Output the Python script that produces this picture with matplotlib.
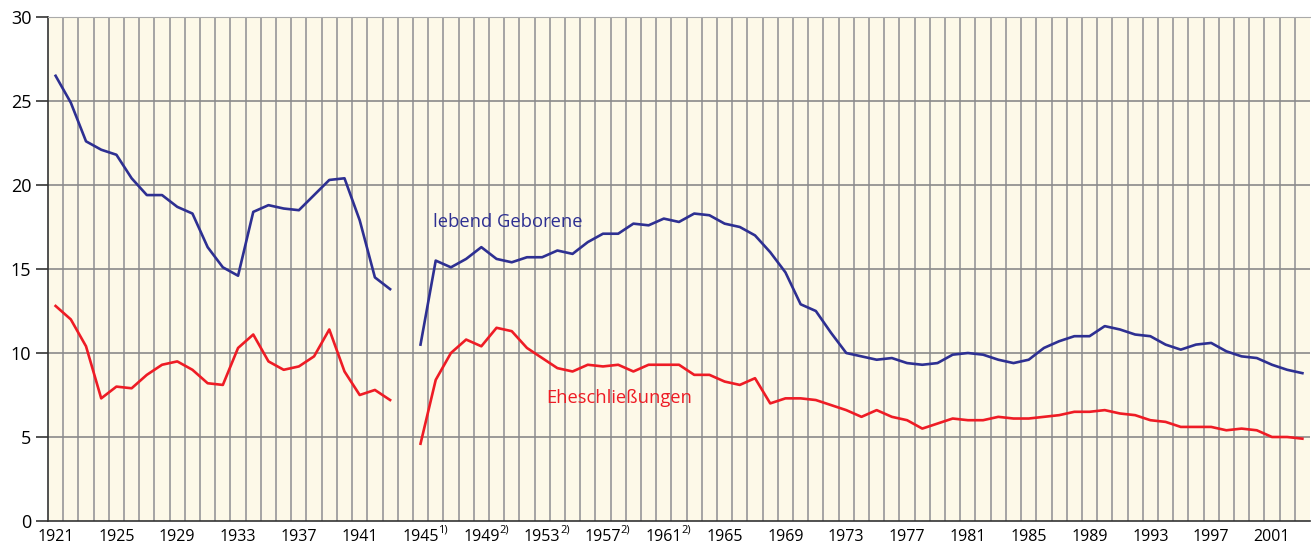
import matplotlib
matplotlib.use("Agg")
import matplotlib.pyplot as plt
import matplotlib.transforms as mtransforms
import numpy as np

plt.rcParams["font.family"] = ["Open Sans", "DejaVu Sans"]

# Jahre 1921-1943 und 1945-2003
years_a = list(range(1921, 1944))
years_b = list(range(1945, 2004))

geborene_a = [26.5, 24.9, 22.6, 22.1, 21.8, 20.4, 19.4, 19.4, 18.7, 18.3, 16.3, 15.1,
              14.6, 18.4, 18.8, 18.6, 18.5, 19.4, 20.3, 20.4, 17.9, 14.5, 13.8]
geborene_b = [10.5, 15.5, 15.1, 15.6, 16.3, 15.6, 15.4, 15.7, 15.7, 16.1, 15.9, 16.6,
              17.1, 17.1, 17.7, 17.6, 18.0, 17.8, 18.3, 18.2, 17.7, 17.5, 17.0, 16.0,
              14.8, 12.9, 12.5, 11.2, 10.0, 9.8, 9.6, 9.7, 9.4, 9.3, 9.4, 9.9,
              10.0, 9.9, 9.6, 9.4, 9.6, 10.3, 10.7, 11.0, 11.0, 11.6, 11.4, 11.1,
              11.0, 10.5, 10.2, 10.5, 10.6, 10.1, 9.8, 9.7, 9.3, 9.0, 8.8]

ehe_a = [12.8, 12.0, 10.4, 7.3, 8.0, 7.9, 8.7, 9.3, 9.5, 9.0, 8.2, 8.1,
         10.3, 11.1, 9.5, 9.0, 9.2, 9.8, 11.4, 8.9, 7.5, 7.8, 7.2]
ehe_b = [4.6, 8.4, 10.0, 10.8, 10.4, 11.5, 11.3, 10.3, 9.7, 9.1, 8.9, 9.3,
         9.2, 9.3, 8.9, 9.3, 9.3, 9.3, 8.7, 8.7, 8.3, 8.1, 8.5, 7.0,
         7.3, 7.3, 7.2, 6.9, 6.6, 6.2, 6.6, 6.2, 6.0, 5.5, 5.8, 6.1,
         6.0, 6.0, 6.2, 6.1, 6.1, 6.2, 6.3, 6.5, 6.5, 6.6, 6.4, 6.3,
         6.0, 5.9, 5.6, 5.6, 5.6, 5.4, 5.5, 5.4, 5.0, 5.0, 4.9]

tick_years = list(range(1921, 2004, 4))
tick_notes = {1945: "1)", 1949: "2)", 1953: "2)", 1957: "2)", 1961: "2)"}

blue = "#2e3092"
red = "#ee1c25"

fig = plt.figure(figsize=(13.11, 5.45), dpi=100)
ax = fig.add_axes([48 / 1311, 24 / 545, 1262 / 1311, 504 / 545])
ax.set_facecolor("#fdf9e8")

ax.set_xlim(1920.5, 2003.5)
ax.set_ylim(0, 30)

for x in np.arange(1921.5, 2003.5, 1):
    ax.axvline(x, color="#9e9e9e", lw=1.3, zorder=1)
for y in [5, 10, 15, 20, 25]:
    ax.axhline(y, color="#8a8a8a", lw=1.2, zorder=1)

ax.plot(years_a, geborene_a, color=blue, lw=1.9, zorder=3)
ax.plot(years_b, geborene_b, color=blue, lw=1.9, zorder=3)
ax.plot(years_a, ehe_a, color=red, lw=1.9, zorder=3)
ax.plot(years_b, ehe_b, color=red, lw=1.9, zorder=3)

ax.text(1945.8, 17.8, "lebend Geborene", color=blue, fontsize=13.2, va="center", ha="left")
ax.text(1953.25, 7.35, "Eheschließungen", color=red, fontsize=13.2, va="center", ha="left")

ax.set_yticks([0, 5, 10, 15, 20, 25, 30])
ax.tick_params(axis="y", length=9, width=1.2, color="#333333", labelsize=13, pad=3)
ax.set_xticks(tick_years)
ax.set_xticklabels([str(y) for y in tick_years])
ax.tick_params(axis="x", length=0, labelsize=11.5, pad=6)

# Fussnoten an den Jahreszahlen
trans = mtransforms.blended_transform_factory(ax.transData, ax.transAxes)
for yr, note in tick_notes.items():
    ax.text(yr + 1.18, -0.017, note, transform=trans, fontsize=8,
            ha="left", va="center", clip_on=False)

ax.spines["right"].set_visible(False)
ax.spines["top"].set_color("#aaaaaa")
ax.spines["left"].set_color("#333333")
ax.spines["bottom"].set_color("#333333")
ax.spines["left"].set_linewidth(1.2)
ax.spines["bottom"].set_linewidth(1.2)

fig.savefig("out.png", dpi=100)
